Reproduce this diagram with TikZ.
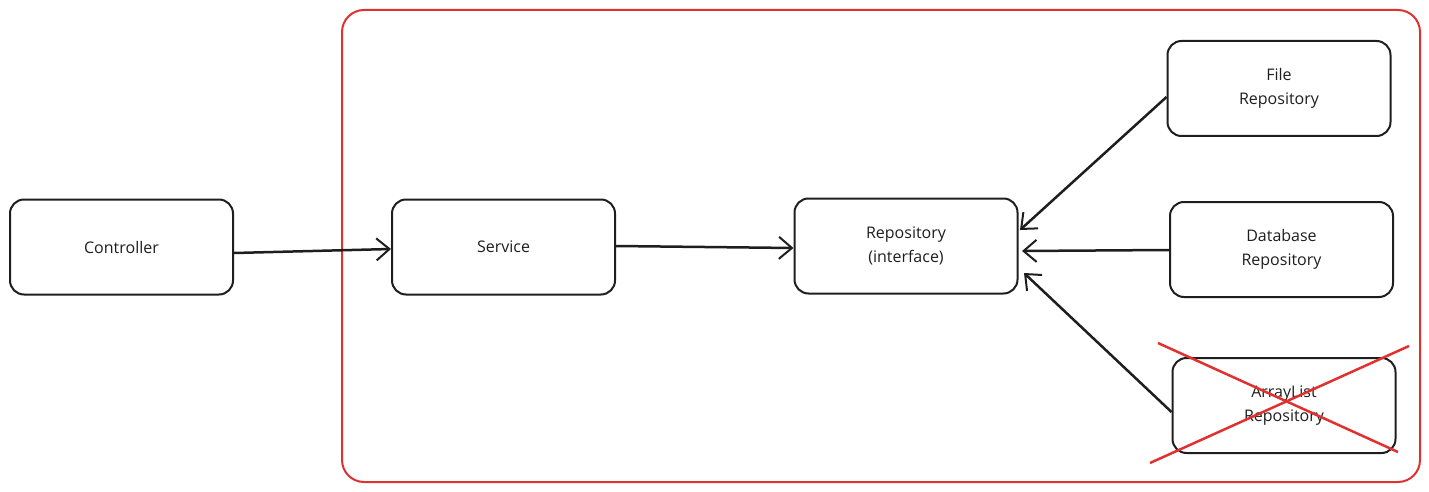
\documentclass[tikz,border=0pt]{standalone}
\usepackage{fontspec}
\setmainfont{Open Sans}
\usetikzlibrary{arrows.meta}
\definecolor{xred}{HTML}{E03131}
\definecolor{xblack}{HTML}{1E1E1E}
\begin{document}
\begin{tikzpicture}[x=1pt,y=-1pt,
  box/.style={draw=xblack,line width=2pt,rounded corners=14pt,minimum width=223pt,minimum height=95pt,align=center,font=\fontsize{16}{24}\selectfont,text=xblack,inner sep=0pt},
  conn/.style={draw=xblack,line width=2.5pt,-{Straight Barb[length=13pt,width=22pt,line width=2pt]}},
  cross/.style={draw=xred,line width=2.5pt}]
\useasboundingbox (0,0) rectangle (1429,492);
\draw[xred,line width=2pt,rounded corners=22pt] (342,10) rectangle (1420,482);
\node[box] (ctrl) at (121.5,247) {Controller};
\node[box] (svc) at (503.5,247) {Service};
\node[box] (repo) at (906,246) {Repository\\(interface)};
\node[box] (file) at (1279,88.5) {File\\Repository};
\node[box] (db) at (1281.5,249.5) {Database\\Repository};
\node[box] (arr) at (1284,405.5) {ArrayList\\Repository};
\coordinate (c1a) at (1158,343);
\coordinate (c1b) at (1398,452);
\coordinate (c2a) at (1150,463);
\coordinate (c2b) at (1409,346);
\draw[cross] (c1a) -- (c1b);
\draw[cross] (c2a) -- (c2b);
\draw[conn] (ctrl.east |- 0,253) -- (svc.west |- 0,249);
\draw[conn] (svc.east |- 0,246) -- (repo.west |- 0,248);
\draw[conn] (file.west |- 0,97) -- (1020,230);
\draw[conn] (db.west |- 0,250) -- (1022,251);
\draw[conn] (arr.west |- 0,412) -- (1024,273);
\end{tikzpicture}
\end{document}
